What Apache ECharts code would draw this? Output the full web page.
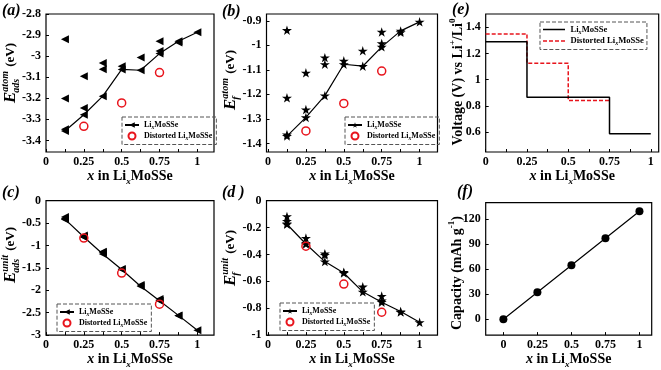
<!DOCTYPE html>
<html>
<head>
<meta charset="utf-8">
<script src="https://cdn.jsdelivr.net/npm/echarts@6/dist/echarts.min.js"></script>
<style>
  html, body { margin: 0; padding: 0; background: #fff; }
  #chart { width: 661px; height: 370px; }
</style>
</head>
<body>
<div id="chart"></div>
<script>
const FONT = '"Liberation Serif", "Times New Roman", serif';

// Li concentration of the lowest-energy configurations
const conc = [0.125, 0.25, 0.375, 0.5, 0.625, 0.75, 0.875, 1];
// other (higher energy) configurations
const otherConc = [0.125, 0.125, 0.125, 0.25, 0.25, 0.375, 0.375, 0.5, 0.625, 0.75, 0.75, 0.875];
const distortedConc = [0.25, 0.5, 0.75];

// (a) adsorption energy per atom
const eAdsAtom = [-3.355, -3.278, -3.19, -3.063, -3.067, -2.988, -2.929, -2.887];
const eAdsAtomOther = [-2.92, -3.201, -3.347, -3.095, -3.246, -3.032, -3.062, -3.048, -3.006, -2.929, -2.976, -2.935];
const eAdsAtomDist = [-3.333, -3.222, -3.078];

// (b) formation energy per atom
const eFAtom = [-1.37, -1.294, -1.205, -1.077, -1.085, -1.006, -0.941, -0.904];
const eFAtomOther = [-0.938, -1.214, -1.364, -1.112, -1.262, -1.05, -1.077, -1.063, -1.022, -0.945, -0.992, -0.947];
const eFAtomDist = [-1.349, -1.237, -1.105];

// (c) adsorption energy per unit
const eAdsUnit = [-0.41, -0.81, -1.19, -1.535, -1.91, -2.235, -2.56, -2.89];
const eAdsUnitOther = [-0.365, -0.4, -0.42, -0.775, -0.81, -1.14, -1.15, -1.525, -1.88, -2.195, -2.23, -2.57];
const eAdsUnitDist = [-0.835, -1.615, -2.31];

// (d) formation energy per unit
const eFUnit = [-0.175, -0.322, -0.453, -0.538, -0.678, -0.755, -0.825, -0.905];
const eFUnitOther = [-0.117, -0.152, -0.17, -0.278, -0.316, -0.394, -0.404, -0.532, -0.64, -0.709, -0.744, -0.828];
const eFUnitDist = [-0.338, -0.62, -0.83];

// (e) voltage profile (value holds until the next x)
const voltX = [0, 0.25, 0.75, 1];
const volt = [1.29, 0.866, 0.586, 0.586];
const voltDistX = [0, 0.25, 0.5, 0.75];
const voltDist = [1.35, 1.125, 0.84, 0.84];

// (f) capacity
const capX = [0, 0.25, 0.5, 0.75, 1];
const capacity = [0, 32.3, 64.6, 97, 129.3];

// ticks
const xTicks = [0, 0.125, 0.25, 0.375, 0.5, 0.625, 0.75, 0.875, 1];
const xLabels = [0, 0.25, 0.5, 0.75, 1];
const yLabelsA = [-3.4, -3.3, -3.2, -3.1, -3, -2.9, -2.8];
const yLabelsB = [-1.4, -1.3, -1.2, -1.1, -1, -0.9];
const yLabelsC = [-3, -2.5, -2, -1.5, -1, -0.5, 0];
const yLabelsD = [-1, -0.8, -0.6, -0.4, -0.2, 0];
const yLabelsE = [0.6, 0.8, 1, 1.2, 1.4];
const yLabelsF = [0, 30, 60, 90, 120];

const RED = '#e8141c';
const TRI = 'path://M0,5L10,0L10,10Z';
const STAR = 'path://M50,0L61,35L98,35L68,57L79,91L50,70L21,91L32,57L2,35L39,35Z';
const SOLID_ICON = 'path://M0,0H22V1.5H0Z';
const DASH_ICON = 'path://M0,0H4V1.5H0ZM6,0H10V1.5H6ZM12,0H16V1.5H12ZM18,0H22V1.5H18Z';

const chart = echarts.init(document.getElementById('chart'), null, { renderer: 'canvas' });

const grids = [
  { left: 46, top: 14, width: 168, height: 138 },
  { left: 266.5, top: 14, width: 171, height: 138 },
  { left: 46, top: 200.7, width: 168, height: 137.3 },
  { left: 266.5, top: 200.7, width: 171, height: 137.3 },
  { left: 485.7, top: 14, width: 173, height: 138 },
  { left: 485.7, top: 202.7, width: 166, height: 135 }
].map(g => Object.assign({ show: true, borderColor: '#000', borderWidth: 1.2, backgroundColor: 'transparent' }, g));

const labelStyle = { color: '#000', fontFamily: FONT, fontWeight: 'bold', fontSize: 12 };
const xNameRich = {
  i: { fontFamily: FONT, fontStyle: 'italic', fontWeight: 'bold', fontSize: 14, lineHeight: 20, color: '#000' },
  b: { fontFamily: FONT, fontWeight: 'bold', fontSize: 14, lineHeight: 20, color: '#000' },
  s: { fontFamily: FONT, fontStyle: 'italic', fontWeight: 'bold', fontSize: 9, lineHeight: 9, verticalAlign: 'bottom', color: '#000' }
};

function xAxis(gi, min, max, ticks) {
  return {
    type: 'value', gridIndex: gi, min, max,
    axisLine: { show: false, onZero: false },
    axisTick: { inside: true, length: 3, customValues: ticks, lineStyle: { color: '#000', width: 1 } },
    axisLabel: Object.assign({ customValues: xLabels, margin: 4 }, labelStyle),
    splitLine: { show: false },
    name: '{i|x}{b| in Li}{s|x}{b|MoSSe}',
    nameLocation: 'middle', nameGap: 12,
    nameTextStyle: { rich: xNameRich }
  };
}

function yAxis(gi, min, max, labels) {
  return {
    type: 'value', gridIndex: gi, min, max,
    axisLine: { show: false, onZero: false },
    axisTick: { inside: true, length: 3, customValues: labels, lineStyle: { color: '#000', width: 1 } },
    axisLabel: Object.assign({ customValues: labels, margin: 5 }, labelStyle),
    splitLine: { show: false }
  };
}

function pairs(xs, ys) { return xs.map((x, k) => [x, ys[k]]); }

function energyPanel(gi, key, symbol, size, lineY, otherY, distY) {
  return [
    {
      name: key + '1', type: 'line', xAxisIndex: gi, yAxisIndex: gi,
      data: pairs(conc, lineY), symbol, symbolSize: size, symbolKeepAspect: true,
      lineStyle: { color: '#000', width: 1.2 }, itemStyle: { color: '#000', opacity: 1 }, z: 3
    },
    {
      type: 'scatter', xAxisIndex: gi, yAxisIndex: gi,
      data: pairs(otherConc, otherY), symbol, symbolSize: size, symbolKeepAspect: true,
      itemStyle: { color: '#000', opacity: 1 }, z: 2
    },
    {
      name: key + '2', type: 'scatter', xAxisIndex: gi, yAxisIndex: gi,
      data: pairs(distortedConc, distY), symbol: 'circle', symbolSize: 8,
      itemStyle: { color: 'rgba(255,255,255,0)', borderColor: RED, borderWidth: 1.5, opacity: 1 }, z: 4
    }
  ];
}

function legRich(size) {
  return {
    b: { fontFamily: FONT, fontWeight: 'bold', fontSize: size, lineHeight: 11, color: '#000' },
    s: { fontFamily: FONT, fontStyle: 'italic', fontWeight: 'bold', fontSize: size * 0.7, lineHeight: 6, verticalAlign: 'bottom', color: '#000' }
  };
}
function legendLabel(name) {
  return name.endsWith('2') ? '{b|Distorted Li}{s|x}{b|MoSSe}' : '{b|Li}{s|x}{b|MoSSe}';
}
function legend(key, left, top) {
  return {
    left, top, orient: 'vertical', data: [key + '1', key + '2'],
    selectedMode: false, borderColor: '#555', borderWidth: 1, borderType: 'dashed',
    padding: [4, 4, 3, 2], itemGap: 1, itemWidth: 14, itemHeight: 7,
    textStyle: { rich: legRich(8) }, formatter: legendLabel
  };
}

// rotated y titles
const measureCtx = document.createElement('canvas').getContext('2d');
function textWidth(t, font) { measureCtx.font = font; return measureCtx.measureText(t).width; }
function txt(text, font, x, y) {
  return { type: 'text', x, y, style: { text, font, fill: '#000', align: 'left', verticalAlign: 'middle', textAlign: 'left', textVerticalAlign: 'middle' } };
}
function energyTitle(cx, cy, sup, sub) {
  const fE = 'italic bold 17px ' + FONT;
  const fS = 'italic bold 10px ' + FONT;
  const fU = 'bold 13px ' + FONT;
  const wE = textWidth('E', fE);
  const wS = Math.max(textWidth(sup, fS), textWidth(sub, fS));
  const wU = textWidth(' (eV)', fU);
  const x0 = -(wE + wS + wU + 1) / 2;
  return {
    type: 'group', x: cx, y: cy, rotation: Math.PI / 2,
    children: [
      txt('E', fE, x0, 0),
      txt(sup, fS, x0 + wE, -6),
      txt(sub, fS, x0 + wE - 1, 5),
      txt(' (eV)', fU, x0 + wE + wS + 1, 0)
    ]
  };
}
const titleRich = {
  b: { fontFamily: FONT, fontWeight: 'bold', fontSize: 14, lineHeight: 20, fill: '#000' },
  p: { fontFamily: FONT, fontWeight: 'bold', fontSize: 9, lineHeight: 9, verticalAlign: 'top', fill: '#000' }
};
function richTitle(cx, cy, text) {
  return {
    type: 'text', x: cx, y: cy, rotation: Math.PI / 2,
    style: { text, rich: titleRich, align: 'center', verticalAlign: 'middle', textAlign: 'center', textVerticalAlign: 'middle', fill: '#000' }
  };
}
function panelTag(x, y, letter) {
  return {
    type: 'text', x, y,
    style: { text: '(' + letter + ')', font: 'italic bold 16px ' + FONT, fill: '#000', align: 'left', verticalAlign: 'middle', textAlign: 'left', textVerticalAlign: 'middle' }
  };
}

const option = {
  animation: false,
  backgroundColor: '#fff',
  grid: grids,
  xAxis: [
    xAxis(0, 0, 1.11, xTicks),
    xAxis(1, -0.01, 1.118, xTicks),
    xAxis(2, 0, 1.11, xTicks),
    xAxis(3, -0.01, 1.118, xTicks),
    xAxis(4, 0, 1.048, xTicks),
    xAxis(5, -0.13, 1.09, xLabels)
  ],
  yAxis: [
    yAxis(0, -3.455, -2.8, yLabelsA),
    yAxis(1, -1.435, -0.872, yLabelsB),
    yAxis(2, -3, 0, yLabelsC),
    yAxis(3, -1, 0, yLabelsD),
    yAxis(4, 0.447, 1.502, yLabelsE),
    yAxis(5, -19, 139.5, yLabelsF)
  ],
  legend: [
    legend('a', 122, 117),
    legend('b', 345, 117),
    legend('c', 57, 304),
    legend('d', 280, 303),
    {
      left: 540, top: 22, orient: 'vertical',
      data: [{ name: 'e1', icon: SOLID_ICON }, { name: 'e2', icon: DASH_ICON }],
      selectedMode: false, borderColor: '#555', borderWidth: 1, borderType: 'dashed',
      padding: [3, 3, 3, 3], itemGap: 1.5, itemWidth: 23, itemHeight: 1.5,
      textStyle: { rich: legRich(8.6) }, formatter: legendLabel
    }
  ],
  series: [
    ...energyPanel(0, 'a', TRI, 8, eAdsAtom, eAdsAtomOther, eAdsAtomDist),
    ...energyPanel(1, 'b', STAR, 10, eFAtom, eFAtomOther, eFAtomDist),
    ...energyPanel(2, 'c', TRI, 8, eAdsUnit, eAdsUnitOther, eAdsUnitDist),
    ...energyPanel(3, 'd', STAR, 10, eFUnit, eFUnitOther, eFUnitDist),
    {
      name: 'e1', type: 'line', xAxisIndex: 4, yAxisIndex: 4, step: 'end',
      data: pairs(voltX, volt), symbol: 'none',
      lineStyle: { color: '#000', width: 1.5 }, itemStyle: { color: '#000' }, z: 3
    },
    {
      name: 'e2', type: 'line', xAxisIndex: 4, yAxisIndex: 4, step: 'end',
      data: pairs(voltDistX, voltDist), symbol: 'none',
      lineStyle: { color: RED, width: 1.5, type: [4, 2] }, itemStyle: { color: RED }, z: 2
    },
    {
      type: 'line', xAxisIndex: 5, yAxisIndex: 5,
      data: pairs(capX, capacity), symbol: 'circle', symbolSize: 8,
      lineStyle: { color: '#000', width: 1.2 }, itemStyle: { color: '#000' }
    }
  ],
  graphic: [
    energyTitle(11, 73, 'atom', 'ads'),
    energyTitle(231, 80, 'atom', 'f'),
    energyTitle(11, 255, 'unit', 'ads'),
    energyTitle(231, 258, 'unit', 'f'),
    richTitle(458, 82, '{b|Voltage (V) vs Li}{p|+}{b|/Li}{p|0}'),
    richTitle(457, 273, '{b|Capacity (mAh g}{p|-1}{b|)}'),
    panelTag(2, 11, 'a'),
    panelTag(222, 12, 'b'),
    panelTag(452, 10, 'e'),
    panelTag(2, 193, 'c'),
    panelTag(222, 193, 'd '),
    panelTag(457, 192, 'f')
  ]
};

chart.setOption(option);
</script>
</body>
</html>
